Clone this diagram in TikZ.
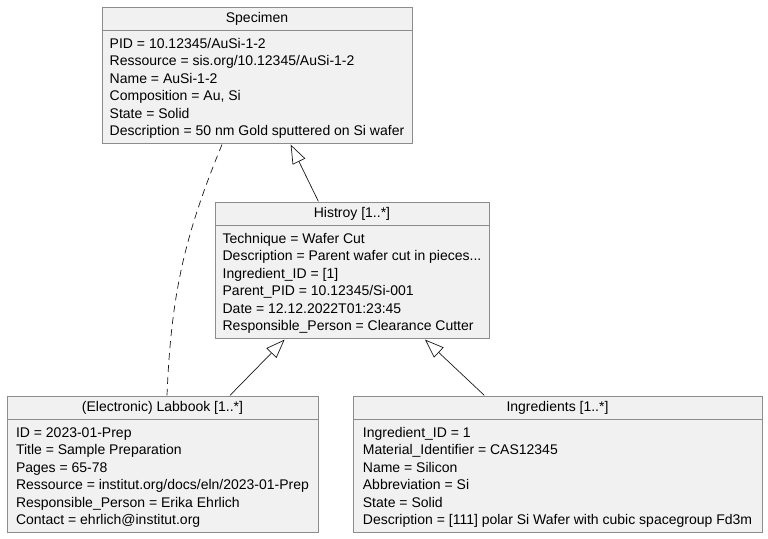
\documentclass[tikz,border=0pt]{standalone}
\usepackage{fontspec}
\setmainfont{Liberation Sans}
\usetikzlibrary{positioning,arrows.meta,fit,calc}
\definecolor{objfill}{HTML}{F1F1F1}
\definecolor{objline}{HTML}{181818}
\definecolor{objframe}{HTML}{8C8C8C}

\begin{document}
\begin{tikzpicture}[x=1pt, y=-1pt,
    head/.style={rectangle, draw=objframe, fill=objfill, line width=0.9pt, minimum height=23pt, inner sep=0pt, font=\fontsize{14}{17.4}\selectfont},
    body/.style={rectangle, draw=objframe, fill=objfill, line width=0.9pt, minimum height=113pt, inner xsep=0pt, inner ysep=0pt, align=left, font=\fontsize{14}{17.4}\selectfont},
    whole/.style={inner sep=0pt},
    inherit/.style={-{Triangle[open, length=19pt, width=14pt]}, line width=0.7pt, draw=objline}]
    \useasboundingbox (0,0) rectangle (768,538);

    % Specimen
    \node[head, minimum width=310pt] (spechead) at (257,18.5) {Specimen};
    \node[body, minimum width=310pt, below=0pt of spechead] (specbody)
        {\strut PID = 10.12345/AuSi-1-2\\Ressource = sis.org/10.12345/AuSi-1-2\\Name = AuSi-1-2\\Composition = Au, Si\\State = Solid\\Description = 50 nm Gold sputtered on Si wafer};
    \node[whole, fit=(spechead)(specbody)] (specimen) {};

    % History
    \node[head, minimum width=274pt] (histhead) at (352,213.5) {Histroy [1..*]};
    \node[body, minimum width=274pt, below=0pt of histhead] (histbody)
        {\strut Technique = Wafer Cut\\Description = Parent wafer cut in pieces...\\Ingredient\_ID = [1]\\Parent\_PID = 10.12345/Si-001\\Date = 12.12.2022T01:23:45\\Responsible\_Person = Clearance Cutter};
    \node[whole, fit=(histhead)(histbody)] (history) {};

    % Labbook
    \node[head, minimum width=311pt] (labhead) at (162.5,407.5) {(Electronic) Labbook [1..*]};
    \node[body, minimum width=311pt, below=0pt of labhead] (labbody)
        {\strut ID = 2023-01-Prep\\Title = Sample Preparation\\Pages = 65-78\\Ressource = institut.org/docs/eln/2023-01-Prep\\Responsible\_Person = Erika Ehrlich\\Contact = ehrlich@institut.org};
    \node[whole, fit=(labhead)(labbody)] (labbook) {};

    % Ingredients
    \node[head, minimum width=409pt] (ingrhead) at (557.5,407.5) {Ingredients [1..*]};
    \node[body, minimum width=409pt, below=0pt of ingrhead] (ingrbody)
        {\strut Ingredient\_ID = 1\\Material\_Identifier = CAS12345\\Name = Silicon\\Abbreviation = Si\\State = Solid\\Description = [111] polar Si Wafer with cubic spacegroup Fd3m};
    \node[whole, fit=(ingrhead)(ingrbody)] (ingredients) {};

    % Relations
    \draw[inherit] (history) -- (specimen);
    \draw[inherit] (labbook) -- (history);
    \draw[inherit] (ingredients) -- (history);
    \draw[objline, line width=0.7pt, dash pattern=on 7pt off 5pt] ($(specimen.south)+(-35,0)$) to[bend right=10] ($(labbook.north)+(4.5,0)$);
\end{tikzpicture}
\end{document}
